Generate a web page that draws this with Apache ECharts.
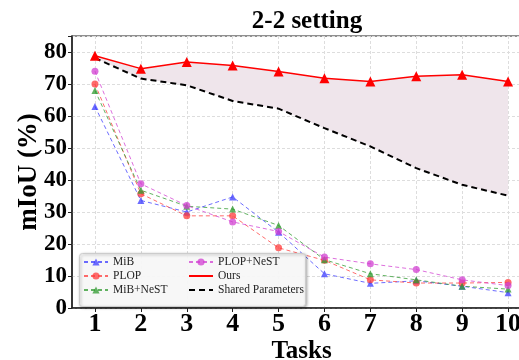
<!DOCTYPE html>
<html>
<head>
<meta charset="utf-8">
<script src="https://cdn.jsdelivr.net/npm/echarts@6/dist/echarts.min.js"></script>
<style>
  html, body { margin: 0; padding: 0; background: #fff; }
  #chart { width: 519px; height: 360px; }
</style>
</head>
<body>
<div id="chart"></div>
<script>
var tasks = ['1', '2', '3', '4', '5', '6', '7', '8', '9', '10'];
var mibData = [63, 33.6, 30, 34.7, 23.7, 10.7, 7.7, 8.5, 6.8, 4.8];
var plopData = [70, 35.7, 28.8, 28.8, 18.8, 14.9, 8.8, 7.8, 7.8, 8];
var mibNestData = [68, 36.8, 31.8, 30.9, 25.8, 15.1, 10.7, 8.8, 6.8, 5.9];
var plopNestData = [74, 38.8, 32, 26.9, 23.9, 15.9, 13.8, 12, 8.8, 7];
var oursData = [78.8, 74.8, 76.9, 75.8, 73.9, 71.8, 70.8, 72.4, 72.9, 70.8];
var sharedData = [78.1, 71.7, 69.6, 64.7, 62.3, 56.2, 50.5, 43.7, 38.5, 35.1];
var yTicks = [0, 10, 20, 30, 40, 50, 60, 70, 80];

// gap between ours and shared parameters, for the shaded band
var gapData = [];
for (var i = 0; i < oursData.length; i++) {
  gapData.push(+(oursData[i] - sharedData[i]).toFixed(2));
}

var serif = '"Liberation Serif", "DejaVu Serif", serif';

function dashed(name, data, color, symbol, size) {
  return {
    name: name,
    type: 'line',
    data: data,
    symbol: symbol,
    symbolSize: size,
    z: 3,
    itemStyle: { color: color, opacity: 0.75 },
    lineStyle: { color: color, width: 1, type: [4, 3], opacity: 0.75 }
  };
}

var legendText = { fontFamily: serif, fontSize: 11.5, color: '#222' };

var chart = echarts.init(document.getElementById('chart'));
chart.setOption({
  animation: false,
  title: {
    text: '2-2 setting',
    left: 302,
    textAlign: 'center',
    top: 4,
    textStyle: { fontFamily: serif, fontSize: 25, fontWeight: 'bold', color: '#000' }
  },
  graphic: [{
    type: 'rect',
    left: 79,
    top: 253,
    z: 10,
    shape: { width: 226, height: 53, r: 3 },
    style: {
      fill: 'rgba(255,255,255,0.9)',
      stroke: '#cccccc',
      lineWidth: 1,
      shadowBlur: 3,
      shadowOffsetX: 1,
      shadowOffsetY: 1,
      shadowColor: 'rgba(0,0,0,0.35)'
    }
  }],
  legend: [{
    data: ['MiB', 'PLOP', 'MiB+NeST'],
    orient: 'vertical',
    left: 83,
    top: 256,
    padding: 0,
    z: 11,
    itemWidth: 24,
    itemHeight: 9,
    itemGap: 2,
    textStyle: legendText
  }, {
    data: [
      'PLOP+NeST',
      { name: 'Ours', itemStyle: { opacity: 0 } },
      { name: 'Shared Parameters', itemStyle: { opacity: 0 } }
    ],
    orient: 'vertical',
    left: 188,
    top: 256,
    padding: 0,
    z: 11,
    itemWidth: 24,
    itemHeight: 9,
    itemGap: 2,
    textStyle: legendText
  }],
  grid: {
    left: 72,
    top: 36,
    width: 459,
    height: 272,
    show: true,
    borderColor: '#222',
    borderWidth: 1.2,
    containLabel: false,
    outerBoundsMode: 'none'
  },
  xAxis: {
    type: 'category',
    data: tasks,
    boundaryGap: true,
    name: 'Tasks',
    nameLocation: 'middle',
    nameGap: 31,
    nameMoveOverlap: false,
    nameTextStyle: { fontFamily: serif, fontSize: 25, fontWeight: 'bold', color: '#000' },
    axisLine: { lineStyle: { color: '#222', width: 1.5 } },
    axisTick: { show: true, alignWithLabel: true, length: 4, lineStyle: { color: '#222' } },
    axisLabel: { fontFamily: serif, fontSize: 26, fontWeight: 'bold', color: '#000', margin: 3 },
    splitLine: { show: true, alignWithLabel: true, lineStyle: { color: '#dddddd', type: [3, 2], width: 1 } }
  },
  yAxis: {
    type: 'value',
    min: 0,
    max: 85,
    interval: 10,
    name: 'mIoU (%)',
    nameLocation: 'middle',
    nameGap: 29,
    nameMoveOverlap: false,
    nameTextStyle: { fontFamily: serif, fontSize: 27, fontWeight: 'bold', color: '#000' },
    axisLine: { show: true, lineStyle: { color: '#222', width: 1.5 } },
    axisTick: { show: true, length: 4, lineStyle: { color: '#222' } },
    axisLabel: {
      fontFamily: serif, fontSize: 23, fontWeight: 'bold', color: '#000', margin: 5,
      formatter: function (v) { return yTicks.indexOf(v) >= 0 ? String(v) : ''; }
    },
    splitLine: { show: true, lineStyle: { color: '#dddddd', type: [3, 2], width: 1 } }
  },
  series: [
    {
      name: 'band-base',
      type: 'line',
      stack: 'band',
      data: sharedData,
      symbol: 'none',
      silent: true,
      z: 1,
      lineStyle: { opacity: 0 }
    },
    {
      name: 'band-gap',
      type: 'line',
      stack: 'band',
      data: gapData,
      symbol: 'none',
      silent: true,
      z: 1,
      lineStyle: { opacity: 0 },
      areaStyle: { color: '#efe5eb', opacity: 1 }
    },
    dashed('MiB', mibData, '#3b3bff', 'triangle', 7),
    dashed('PLOP', plopData, '#ff3b3b', 'circle', 7),
    dashed('MiB+NeST', mibNestData, '#2e9a2e', 'triangle', 7),
    dashed('PLOP+NeST', plopNestData, '#d23fd2', 'circle', 7),
    {
      name: 'Ours',
      type: 'line',
      data: oursData,
      symbol: 'triangle',
      symbolSize: 10,
      z: 4,
      itemStyle: { color: '#ff0000' },
      lineStyle: { color: '#ff0000', width: 1.5 }
    },
    {
      name: 'Shared Parameters',
      type: 'line',
      data: sharedData,
      symbol: 'none',
      z: 4,
      itemStyle: { color: '#000' },
      lineStyle: { color: '#000', width: 2, type: [6, 4] }
    }
  ]
});
</script>
</body>
</html>
